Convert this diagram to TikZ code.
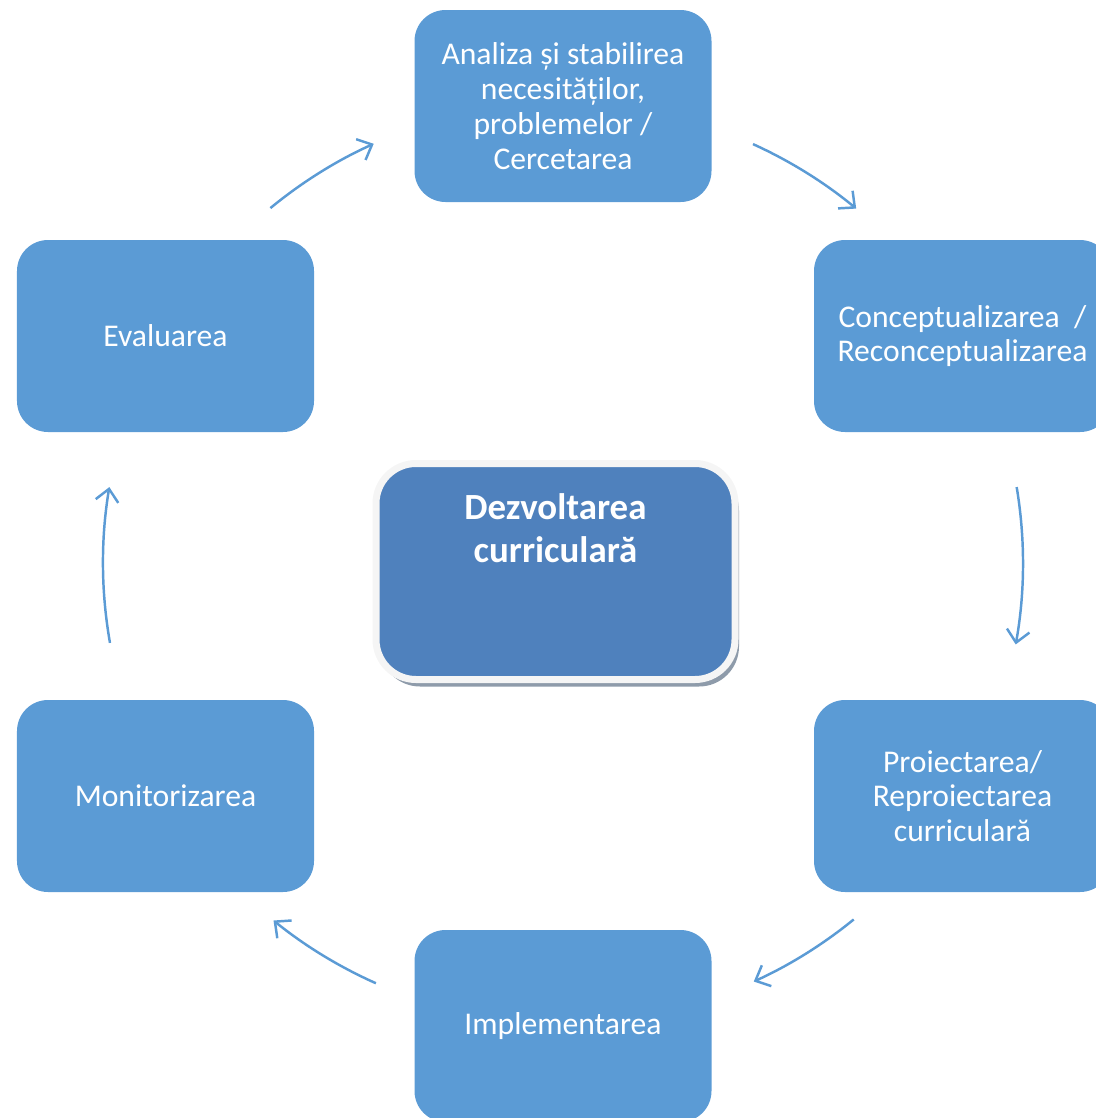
\documentclass[tikz,border=0pt]{standalone}
\usepackage{fontspec}
\setmainfont{Carlito}
\usetikzlibrary{arrows.meta,shadows}
\definecolor{boxblue}{HTML}{5B9BD5}
\definecolor{hubblue}{HTML}{4F81BD}
\definecolor{hubshade}{HTML}{8E9BAA}
\begin{document}
\begin{tikzpicture}[>={Straight Barb[length=7pt,width=13pt]},
	stage/.style={rounded corners=0.62cm,fill=boxblue,text=white,
		minimum width=5.94cm,minimum height=3.84cm,align=center,
		font=\fontsize{18}{19.8}\selectfont},
	hub/.style={rounded corners=0.8cm,fill=hubblue,draw=gray!8,
		line width=0.14cm,minimum width=7.18cm,minimum height=4.32cm,
		drop shadow={shadow xshift=0.08cm,shadow yshift=-0.14cm,
			fill=hubshade,opacity=1}},
	loop/.style={->,draw=boxblue,line width=1.4pt}]
	\useasboundingbox (0,0) rectangle (21.92,-22.36);
	% stages of the cycle
	\node[stage] (ana) at (11.26,-2.12) {Analiza și stabilirea\\necesităților,\\problemelor /\\Cercetarea};
	\node[stage] (conc) at (19.25,-6.72) {Conceptualizarea\ \ /\\Reconceptualizarea};
	\node[stage] (proi) at (19.25,-15.92) {Proiectarea/\\Reproiectarea\\curriculară};
	\node[stage] (impl) at (11.26,-20.52) {Implementarea};
	\node[stage] (moni) at (3.31,-15.92) {Monitorizarea};
	\node[stage] (eval) at (3.31,-6.72) {Evaluarea};
	% centre
	\node[hub] (dc) at (11.11,-11.43) {};
	\node[anchor=north,inner sep=0,text=white,align=center,
		font=\fontsize{21}{24.4}\selectfont\bfseries] (dct)
		at ([yshift=-0.67cm]dc.north) {Dezvoltarea\\curriculară};
	% arcs between the stages
	\coordinate (o) at (11.26,-11.26);
	\foreach \a/\b in {65.6/50.4,9.5/-10.2,-50.8/-65.5,
		-114/-129,190/170.5,129.5/114.3}
	\draw[loop] (o) ++(\a:9.2) arc[start angle=\a,end angle=\b,radius=9.2];
\end{tikzpicture}
\end{document}
